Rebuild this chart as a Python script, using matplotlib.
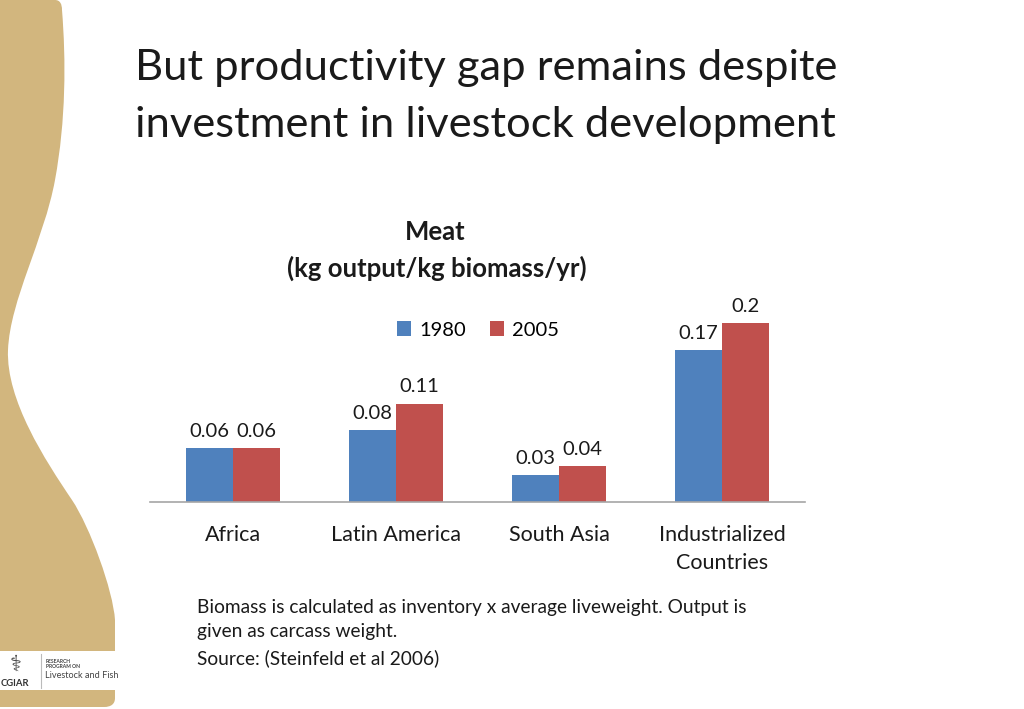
import matplotlib.pyplot as plt
import numpy as np
from matplotlib.path import Path
from matplotlib.patches import PathPatch, Rectangle

# data
regions = ['Africa', 'Latin America', 'South Asia', 'Industrialized\nCountries']
years = ['1980', '2005']
meat_1980 = [0.06, 0.08, 0.03, 0.17]
meat_2005 = [0.06, 0.11, 0.04, 0.2]
colors = ['#4F81BD', '#C0504D']

plt.rcParams['font.family'] = ['Lato', 'DejaVu Sans']

W, H = 1024, 709
fig = plt.figure(figsize=(W / 100, H / 100), dpi=100)

# background decoration, pixel coordinates (y down)
bg = fig.add_axes([0, 0, 1, 1], zorder=-10)
bg.set_xlim(0, W)
bg.set_ylim(H, 0)
bg.axis('off')
verts = [(0, 0), (55, 0),
         (60, 0), (62, 4), (62, 10),
         (66, 60), (66, 120), (55, 180),
         (44, 240), (10, 300), (8, 350),
         (6, 400), (45, 460), (72, 500),
         (90, 527), (113, 590), (115, 620),
         (115, 698),
         (115, 704), (111, 707), (104, 707),
         (0, 707), (0, 0)]
codes = [Path.MOVETO, Path.LINETO,
         Path.CURVE4, Path.CURVE4, Path.CURVE4,
         Path.CURVE4, Path.CURVE4, Path.CURVE4,
         Path.CURVE4, Path.CURVE4, Path.CURVE4,
         Path.CURVE4, Path.CURVE4, Path.CURVE4,
         Path.CURVE4, Path.CURVE4, Path.CURVE4,
         Path.LINETO,
         Path.CURVE4, Path.CURVE4, Path.CURVE4,
         Path.LINETO, Path.CLOSEPOLY]
bg.add_patch(PathPatch(Path(verts, codes), facecolor='#D2B67E', edgecolor='none'))

# logo box
bg.add_patch(Rectangle((0, 651), 117, 39, facecolor='white', edgecolor='none'))
bg.plot([41, 41], [654, 688], color='#bbbbbb', lw=0.8)
bg.text(15, 684, 'CGIAR', fontsize=6.8, fontweight='bold', ha='center', va='center', color='#333333')
bg.text(16, 665, '\u2695', fontsize=16, ha='center', va='center', color='#444444', family=['DejaVu Sans'])
bg.text(46, 664, 'RESEARCH\nPROGRAM ON', fontsize=3.6, fontweight='bold', ha='left', va='center',
        color='#444444', linespacing=1.2)
bg.text(45, 676, 'Livestock and Fish', fontsize=6.6, ha='left', va='center', color='#444444')

# slide title
bg.text(135, 68, 'But productivity gap remains despite', fontsize=31.3, ha='left', va='center', color='#1a1a1a')
bg.text(135, 125, 'investment in livestock development', fontsize=31.3, ha='left', va='center', color='#1a1a1a')

# chart title
bg.text(435, 232, 'Meat', fontsize=18.5, fontweight='bold', ha='center', va='center', color='#1a1a1a')
bg.text(437, 268, '(kg output/kg biomass/yr)', fontsize=18.5, fontweight='bold', ha='center', va='center',
        color='#1a1a1a')

# footnote
bg.text(197, 607, 'Biomass is calculated as inventory x average liveweight. Output is',
        fontsize=13.8, ha='left', va='center', color='#1a1a1a')
bg.text(197, 632, 'given as carcass weight.', fontsize=13.8, ha='left', va='center', color='#1a1a1a')
bg.text(197, 658, 'Source: (Steinfeld et al 2006)', fontsize=13.8, ha='left', va='center', color='#1a1a1a')

# chart
ax = fig.add_axes([150 / W, 207 / H, 655 / W, 212 / H])
x = np.arange(len(regions))
w = 0.288
b1 = ax.bar(x - w / 2, meat_1980, w, color=colors[0], label=years[0])
b2 = ax.bar(x + w / 2, meat_2005, w, color=colors[1], label=years[1])
for bars, vals in [(b1, meat_1980), (b2, meat_2005)]:
    for r, v in zip(bars, vals):
        ax.annotate(f'{v:g}', (r.get_x() + r.get_width() / 2, v), xytext=(0, 6),
                    textcoords='offset points', ha='center', va='bottom', fontsize=14.5, color='#1a1a1a')

ax.set_xlim(-0.51, 3.51)
ax.set_ylim(0, 212 / 895)
ax.set_yticks([])
ax.set_xticks(x)
ax.set_xticklabels(regions, fontsize=15.5, color='#1a1a1a', linespacing=1.5)
ax.tick_params(axis='x', length=0, pad=16.5)
for s in ['top', 'right', 'left']:
    ax.spines[s].set_visible(False)
ax.spines['bottom'].set_color('#a6a6a6')
ax.spines['bottom'].set_linewidth(1.2)
ax.patch.set_alpha(0)

ax.legend(loc='center', bbox_to_anchor=(478 / W, 1 - 330 / H), bbox_transform=fig.transFigure,
          ncol=2, frameon=False, fontsize=14.5, handlelength=0.7, handleheight=0.7,
          handletextpad=0.4, columnspacing=1.2)

fig.savefig('out.png', dpi=100)
